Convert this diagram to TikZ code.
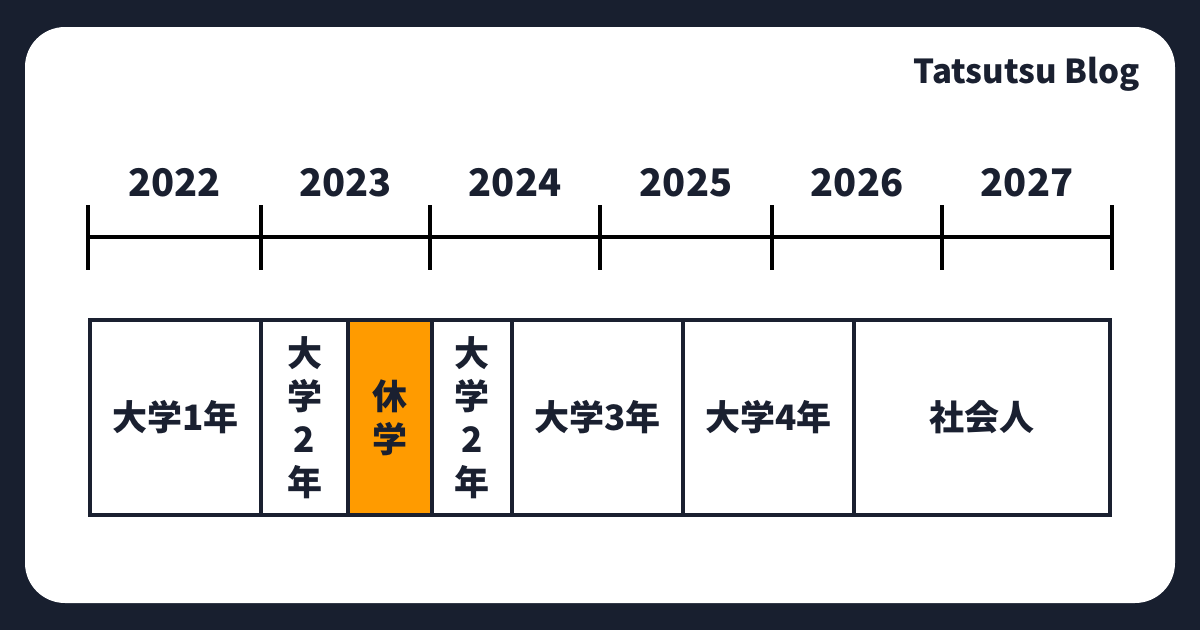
\documentclass[tikz,border=0pt]{standalone}
\usepackage{fontspec}
\setmainfont{Noto Sans CJK JP}
\usetikzlibrary{calc}
\definecolor{bgnavy}{HTML}{181F2F}
\definecolor{inkdark}{HTML}{1A2030}
\definecolor{restorange}{HTML}{FF9B00}

\begin{document}
\begin{tikzpicture}[x=1pt,y=-1pt,
		yearlabel/.style={font=\fontsize{38}{38}\selectfont\bfseries, text=inkdark, inner sep=0pt},
		termbox/.style={draw=inkdark, line width=3.3pt, fill=white, minimum height=195pt,
			inner sep=0pt, align=center, text=inkdark,
			font=\fontsize{35}{43}\selectfont\bfseries},
		timeline/.style={line width=4pt, draw=black}
	]

		% card
		\fill[bgnavy] (0,0) rectangle (1200,630);
		\fill[white, rounded corners=40pt] (25,27) rectangle (1175,603);
		\useasboundingbox (0,0) rectangle (1200,630);

		\node[anchor=base east, text=inkdark, inner sep=0pt,
			font=\fontsize{33}{33}\selectfont\bfseries] (blog) at (1140,83) {Tatsutsu Blog};

		% timeline
		\foreach \i/\x in {0/88,1/261,2/430,3/600,4/772,5/942,6/1112}
			\coordinate (t\i) at (\x,237);
		\draw[timeline] (t0) -- (t6);
		\foreach \i in {0,...,6}
			\draw[timeline] ([yshift=32pt]t\i) -- ([yshift=-33pt]t\i);

		\foreach \a/\b/\yr in {0/1/2022,1/2/2023,2/3/2024,3/4/2025,4/5/2026,5/6/2027}
			\node[yearlabel] (y\yr) at ([yshift=54pt]$(t\a)!0.5!(t\b)$) {\yr};

		% school years
		\node[termbox, minimum width=171pt] (first) at (175.5,417.5) {大学1年};
		\node[termbox, minimum width=87pt] (secondA) at (304.5,417.5) {大\\学\\2\\年};
		\node[termbox, minimum width=84pt, fill=restorange] (rest) at (390,417.5) {休\\学};
		\node[termbox, minimum width=80pt] (secondB) at (472,417.5) {大\\学\\2\\年};
		\node[termbox, minimum width=171pt] (third) at (597.5,417.5) {大学3年};
		\node[termbox, minimum width=171pt] (fourth) at (768.5,417.5) {大学4年};
		\node[termbox, minimum width=256pt] (work) at (982,417.5) {社会人};

\end{tikzpicture}
\end{document}
